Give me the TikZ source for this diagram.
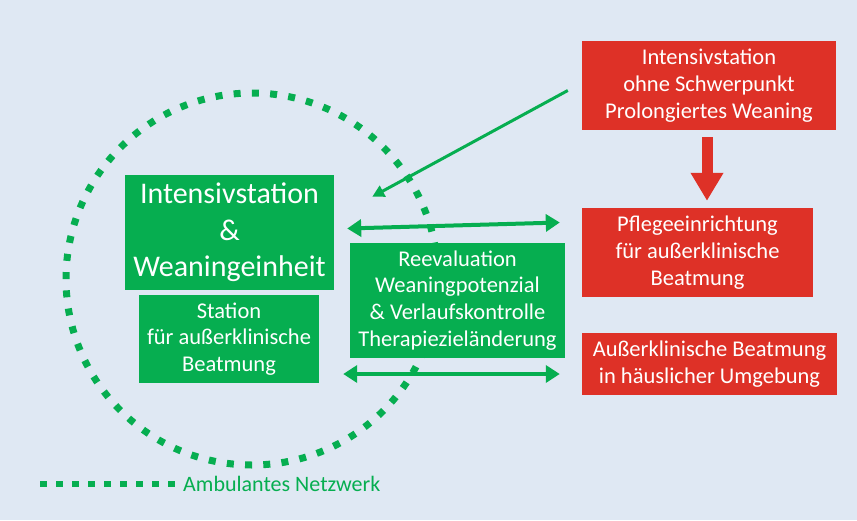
\documentclass[tikz,border=0pt]{standalone}
\usepackage{fontspec}
\setmainfont{Carlito}
\usepackage{tikz}
\usetikzlibrary{positioning,calc,arrows.meta}
\definecolor{bgblue}{HTML}{DFE8F3}
\definecolor{wgreen}{HTML}{06AE50}
\definecolor{wred}{HTML}{DE3127}
\tikzset{%
  every box/.style={
    rectangle,
    text=white,
    align=center,
    inner sep=0pt,
    font=\fontsize{22.5}{26.8}\selectfont
  },
  green box/.style={fill=wgreen},
  red box/.style={fill=wred},
  both way/.style={
    draw=wgreen,
    line width=4pt,
    {Triangle[length=14pt,width=17pt]}-{Triangle[length=14pt,width=17pt]}
  },
  netz/.style={
    draw=wgreen,
    line width=7pt,
    dash pattern=on 7pt off 11.26pt
  },
}
\begin{document}
\begin{tikzpicture}[x=1pt, y=-1pt]

    \fill [bgblue] (0,0) rectangle (857,520);
    \useasboundingbox (0,0) rectangle (857,520);

    % ambulantes Netzwerk
    \draw [netz] (252,279) circle (186);

    \node [every box, green box, minimum width=209pt, minimum height=115pt,
        font=\fontsize{30}{36.5}\selectfont] (intensiv) at (229.5,232.5)
        {Intensivstation\\\&\\Weaningeinheit};
    \node [every box, green box, minimum width=180pt, minimum height=88pt]
        (station) at (229,339) {Station\\für außerklinische\\Beatmung};
    \node [every box, green box, minimum width=215pt, minimum height=115pt]
        (reeval) at (457.5,300.5)
        {Reevaluation\\Weaningpotenzial\\\& Verlaufskontrolle\\Therapiezieländerung};

    \node [every box, red box, minimum width=254pt, minimum height=89pt]
        (ohne) at (709,85.5)
        {Intensivstation\\ohne Schwerpunkt\\Prolongiertes Weaning};
    \node [every box, red box, minimum width=231pt, minimum height=89pt]
        (pflege) at (697.5,252.5)
        {Pflegeeinrichtung\\für außerklinische\\Beatmung};
    \node [every box, red box, minimum width=255pt, minimum height=62pt]
        (haus) at (709.5,364)
        {Außerklinische Beatmung\\in häuslicher Umgebung};

    \draw [wred, line width=11pt, -{Triangle[length=28pt,width=31pt]}]
        ($(ohne.south)+(-2,7)$) -- ($(ohne.south |- pflege.north)+(-2,-7)$);

    \draw [wgreen, line width=3pt, -{Triangle[length=12pt,width=12pt]}]
        ($(ohne.west)+(-14,5)$) -- ($(intensiv.north east)+(38,22)$);

    \draw [both way] ($(intensiv.east)+(13,-4)$) -- ($(pflege.west)+(-22,-30)$);
    \draw [both way] ($(station.east)+(24,35)$) -- ($(haus.west)+(-22,10)$);

    % Legende
    \node [text=wgreen, anchor=west, inner sep=0pt,
        font=\fontsize{22}{24}\selectfont] (legend) at (183,484)
        {Ambulantes Netzwerk};
    \draw [netz, line width=6.5pt, dash pattern=on 6.5pt off 9.5pt]
        ($(legend.west)+(-143,0)$) -- ($(legend.west)+(-8.5,0)$);

\end{tikzpicture}
\end{document}
